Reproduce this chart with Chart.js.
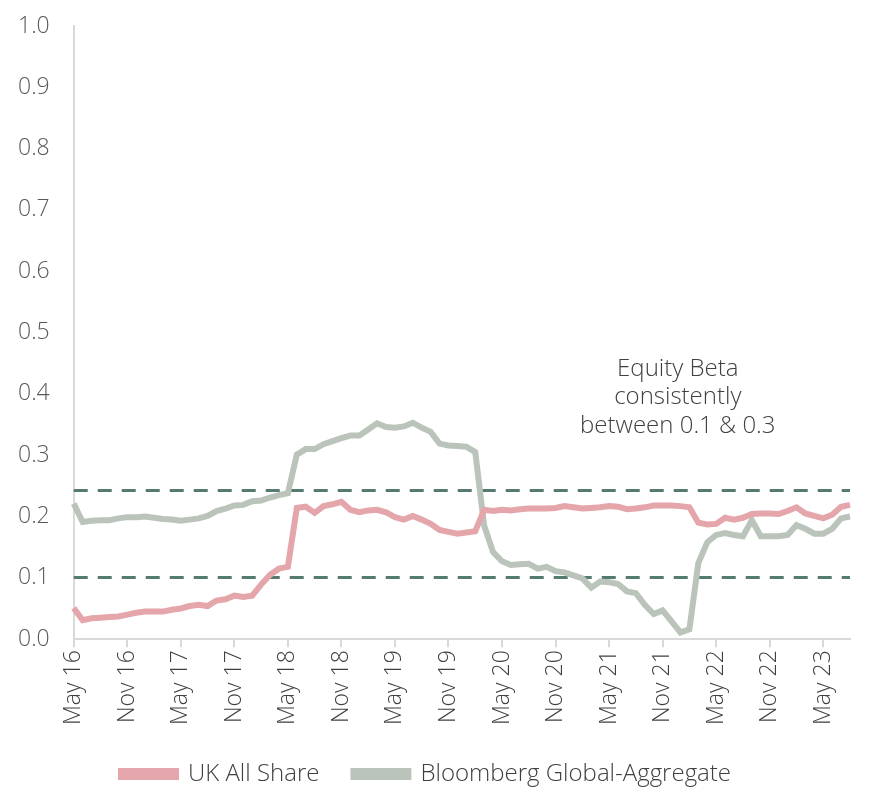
<!DOCTYPE html>
<html>
<head>
<meta charset="utf-8">
<script src="https://cdn.jsdelivr.net/npm/chart.js@4"></script>
<style>
  html, body { margin: 0; padding: 0; background: #fff; }
  #wrap { width: 871px; height: 789px; }
</style>
</head>
<body>
<div id="wrap"><canvas id="betaChart" width="871" height="789"></canvas></div>
<script>
// monthly, May 2016 .. Aug 2023
const months = ['Jan','Feb','Mar','Apr','May','Jun','Jul','Aug','Sep','Oct','Nov','Dec'];
const labels = [];
for (let i = 0; i < 88; i++) {
  const m = (4 + i) % 12;
  const yr = 16 + Math.floor((4 + i) / 12);
  labels.push(months[m] + ' ' + yr);
}

const ukAllShare = [
  0.051, 0.031, 0.034, 0.035, 0.036, 0.037, 0.040, 0.043, 0.045, 0.045, 0.045, 0.048,
  0.050, 0.054, 0.056, 0.054, 0.063, 0.065, 0.071, 0.069, 0.071, 0.089, 0.105, 0.115,
  0.118, 0.214, 0.216, 0.206, 0.217, 0.220, 0.224, 0.211, 0.207, 0.210, 0.211, 0.207,
  0.199, 0.195, 0.201, 0.195, 0.188, 0.178, 0.175, 0.172, 0.174, 0.176, 0.211, 0.209,
  0.211, 0.210, 0.212, 0.213, 0.213, 0.213, 0.214, 0.217, 0.215, 0.213, 0.214, 0.215,
  0.217, 0.216, 0.212, 0.213, 0.215, 0.218, 0.218, 0.218, 0.217, 0.215, 0.190, 0.187,
  0.188, 0.198, 0.195, 0.198, 0.204, 0.205, 0.205, 0.204, 0.209, 0.215, 0.205, 0.201,
  0.197, 0.203, 0.216, 0.219
];

const globalAgg = [
  0.221, 0.191, 0.193, 0.194, 0.194, 0.197, 0.199, 0.199, 0.200, 0.198, 0.196, 0.195,
  0.193, 0.195, 0.197, 0.201, 0.209, 0.213, 0.218, 0.219, 0.225, 0.226, 0.231, 0.235,
  0.238, 0.301, 0.310, 0.310, 0.318, 0.323, 0.328, 0.332, 0.332, 0.342, 0.352, 0.346,
  0.345, 0.347, 0.353, 0.345, 0.338, 0.319, 0.316, 0.315, 0.314, 0.305, 0.185, 0.142,
  0.127, 0.121, 0.122, 0.123, 0.115, 0.118, 0.111, 0.109, 0.104, 0.099, 0.084, 0.094,
  0.093, 0.090, 0.078, 0.075, 0.056, 0.041, 0.047, 0.029, 0.011, 0.016, 0.124, 0.158,
  0.170, 0.173, 0.170, 0.168, 0.194, 0.168, 0.168, 0.168, 0.170, 0.186, 0.180, 0.172,
  0.172, 0.180, 0.197, 0.200
];

const bandLines = [0.243, 0.101];
const noteLines = ['Equity Beta', 'consistently', 'between 0.1 & 0.3'];

const FONT = '"Open Sans", "Noto Sans", sans-serif';

const bandPlugin = {
  id: 'bands',
  beforeDatasetsDraw(chart) {
    const ctx = chart.ctx, area = chart.chartArea, y = chart.scales.y;
    ctx.save();
    ctx.strokeStyle = '#557a70';
    ctx.lineWidth = 3;
    ctx.setLineDash([14, 10]);
    bandLines.forEach(v => {
      const py = Math.round(y.getPixelForValue(v)) + 0.5;
      ctx.beginPath();
      ctx.moveTo(area.left, py);
      ctx.lineTo(area.right, py);
      ctx.stroke();
    });
    ctx.restore();
  },
  afterDatasetsDraw(chart) {
    const ctx = chart.ctx, x = chart.scales.x, y = chart.scales.y;
    ctx.save();
    ctx.fillStyle = '#404040';
    ctx.font = '300 24px ' + FONT;
    ctx.textAlign = 'center';
    ctx.textBaseline = 'middle';
    const cx = x.getPixelForValue(67.7);
    noteLines.forEach((t, i) => {
      ctx.fillText(t, cx, y.getPixelForValue(0.441 - i * 0.047));
    });
    ctx.restore();
  }
};

const ctx = document.getElementById('betaChart').getContext('2d');
new Chart(ctx, {
  type: 'line',
  plugins: [bandPlugin],
  data: {
    labels: labels,
    datasets: [
      {
        label: 'UK All Share',
        data: ukAllShare,
        borderColor: '#e4a6aa',
        backgroundColor: '#e4a6aa',
        borderWidth: 6,
        pointRadius: 0,
        tension: 0
      },
      {
        label: 'Bloomberg Global-Aggregate',
        data: globalAgg,
        borderColor: '#bac4ba',
        backgroundColor: '#bac4ba',
        borderWidth: 6,
        pointRadius: 0,
        tension: 0
      }
    ]
  },
  options: {
    responsive: false,
    animation: false,
    devicePixelRatio: 1,
    layout: { padding: { top: 26, right: 21, left: 2, bottom: -7 } },
    scales: {
      x: {
        afterFit: s => { s.paddingRight = 0; },
        grid: {
          display: true,
          drawOnChartArea: false,
          drawTicks: true,
          tickLength: 8,
          color: c => (c.index % 6 === 0 ? '#d9d9d9' : 'rgba(0,0,0,0)'),
          lineWidth: 2
        },
        border: { display: true, color: '#d9d9d9', width: 2 },
        ticks: {
          autoSkip: false,
          minRotation: 90,
          maxRotation: 90,
          padding: 3,
          color: '#404040',
          font: { family: FONT, size: 23, weight: 300 },
          callback: function (v, i) { return i % 6 === 0 ? labels[i] : ''; }
        }
      },
      y: {
        min: 0,
        max: 1,
        afterFit: s => { s.paddingTop = 0; },
        grid: { display: false },
        border: { display: true, color: '#d9d9d9', width: 2 },
        ticks: {
          stepSize: 0.1,
          padding: 16,
          color: '#595959',
          font: { family: FONT, size: 23, weight: 300 },
          callback: v => Number(v).toFixed(1)
        }
      }
    },
    plugins: {
      legend: {
        position: 'bottom',
        labels: {
          boxWidth: 55,
          boxHeight: 6,
          padding: 34,
          color: '#404040',
          font: { family: FONT, size: 24, weight: 300 }
        }
      },
      tooltip: { enabled: false }
    }
  }
});
</script>
</body>
</html>
